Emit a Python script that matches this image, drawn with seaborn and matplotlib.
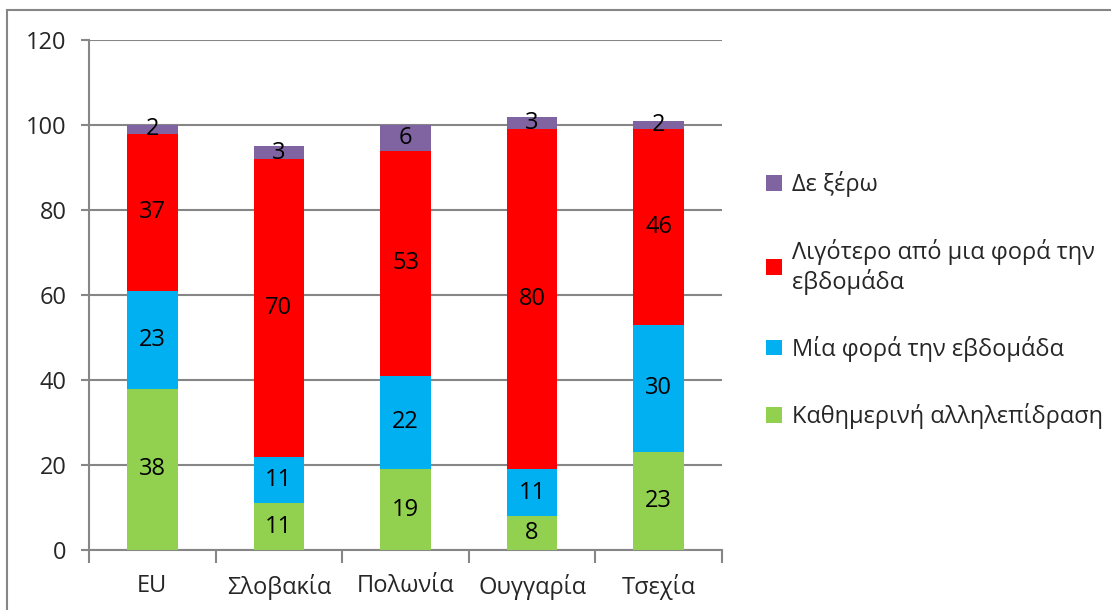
"""
堆叠柱状图：每周互动频率
"""
import matplotlib
matplotlib.use('Agg')
import matplotlib.pyplot as plt
from matplotlib.patches import Rectangle, Patch
import numpy as np
import pandas as pd
import seaborn as sns

countries = ['EU', 'Σλοβακία', 'Πολωνία', 'Ουγγαρία', 'Τσεχία']
series_names = ['Καθημερινή αλληλεπίδραση', 'Μία φορά την εβδομάδα',
                'Λιγότερο από μια φορά την\nεβδομάδα', 'Δε ξέρω']
daily = [38, 11, 19, 8, 23]
weekly = [23, 11, 22, 11, 30]
less = [37, 70, 53, 80, 46]
dont_know = [2, 3, 6, 3, 2]
colors = ['#92D050', '#00B0F0', '#FF0000', '#8064A2']

sns.set_theme(style='white')
plt.rcParams['font.family'] = ['Open Sans', 'DejaVu Sans']

values = np.array([daily, weekly, less, dont_know])
cum = values.cumsum(axis=0)
bottoms = cum - values

fig = plt.figure(figsize=(11.11, 6.10), dpi=100)
ax = fig.add_axes([89 / 1111, 60 / 610, (722 - 89) / 1111, 510 / 610])

# 从最上层开始画累计高度，后画的覆盖前面的
for i in range(len(series_names) - 1, -1, -1):
    df = pd.DataFrame({'country': countries, 'total': cum[i]})
    sns.barplot(data=df, x='country', y='total', color=colors[i],
                width=0.4, saturation=1, linewidth=0, ax=ax, zorder=3)

# 数值标签
for i in range(len(series_names)):
    for j in range(len(countries)):
        ax.text(j, bottoms[i, j] + values[i, j] / 2, str(values[i, j]),
                ha='center', va='center', fontsize=17, color='black', zorder=4)

ax.set_ylim(0, 120)
ax.set_xlim(-0.5, len(countries) - 0.5)
ax.set_yticks(range(0, 121, 20))
ax.set_xlabel('')
ax.set_ylabel('')
ax.yaxis.grid(True, color='#868686', linewidth=1.5)
ax.set_axisbelow(True)

for side in ['top', 'right']:
    ax.spines[side].set_visible(False)
for side in ['left', 'bottom']:
    ax.spines[side].set_color('#868686')
    ax.spines[side].set_linewidth(1.5)

ax.tick_params(axis='y', which='major', left=True, length=6, width=1.5,
               color='#868686', labelsize=17, pad=10, direction='out')
ax.tick_params(axis='x', which='major', length=0, labelsize=17, pad=17)
ax.set_xticks(np.arange(-0.5, len(countries)), minor=True)
ax.tick_params(axis='x', which='minor', bottom=True, length=9, width=1.5,
               color='#868686', direction='out')

handles = [Patch(facecolor=c, edgecolor='none') for c in colors][::-1]
fig.legend(handles, series_names[::-1], loc='upper left',
           bbox_to_anchor=(745 / 1111, 1 - 150 / 610), frameon=False,
           fontsize=17, handlelength=0.65, handleheight=0.65,
           handletextpad=0.45, labelspacing=1.75)

# 外框
fig.patches.append(Rectangle((7 / 1111, -0.01), 1.2, 1 - 10 / 610 + 0.01,
                             transform=fig.transFigure, fill=False,
                             edgecolor='#868686', linewidth=1.5))

fig.savefig('out.png', dpi=100)
